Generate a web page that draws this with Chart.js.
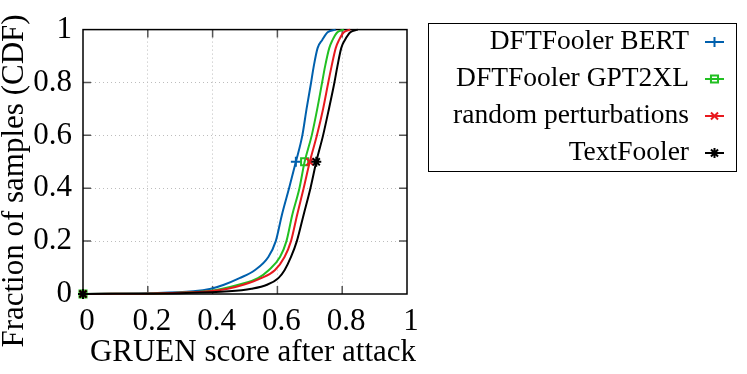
<!DOCTYPE html>
<html>
<head>
<meta charset="utf-8">
<script src="https://cdn.jsdelivr.net/npm/chart.js@4.4.1/dist/chart.umd.min.js"></script>
<style>
    html, body { margin: 0; padding: 0; background: #fff; }
    #wrap { width: 747px; height: 374px; }
</style>
</head>
<body>
<div id="wrap"><canvas id="cdfChart" width="747" height="374"></canvas></div>
<script>
// --- Data ---
const seriesNames = ['DFTFooler BERT', 'DFTFooler GPT2XL', 'random perturbations', 'TextFooler'];
const seriesColors = ['#0060ad', '#22c022', '#e8191e', '#000000'];
const seriesMarkers = ['cross', 'rect', 'crossRot', 'star'];

// fraction of samples (y) at which each curve is sampled
const cdfLevels = [0, 0.003, 0.01, 0.02, 0.035, 0.06, 0.09, 0.14, 0.2, 0.3, 0.4, 0.5, 0.6, 0.7, 0.8, 0.86, 0.93, 0.96, 0.99, 1];
// GRUEN score (x) reached at each level
const bertScores   = [0, 0.20, 0.34, 0.395, 0.435, 0.483, 0.530, 0.572, 0.595, 0.614, 0.636, 0.657, 0.677, 0.690, 0.704, 0.712, 0.724, 0.738, 0.755, 0.780];
const gpt2xlScores = [0, 0.25, 0.38, 0.430, 0.480, 0.540, 0.573, 0.608, 0.628, 0.646, 0.668, 0.684, 0.706, 0.723, 0.738, 0.747, 0.760, 0.770, 0.785, 0.805];
const randomScores = [0, 0.25, 0.39, 0.447, 0.495, 0.550, 0.592, 0.622, 0.642, 0.661, 0.681, 0.700, 0.722, 0.741, 0.757, 0.767, 0.780, 0.790, 0.805, 0.825];
const textFoolerScores = [0, 0.30, 0.45, 0.520, 0.568, 0.603, 0.622, 0.642, 0.660, 0.681, 0.702, 0.720, 0.741, 0.759, 0.776, 0.785, 0.797, 0.808, 0.825, 0.848];

const xTicks = [0, 0.2, 0.4, 0.6, 0.8, 1];
const yTicks = [0, 0.2, 0.4, 0.6, 0.8, 1];
const xTitle = 'GRUEN score after attack';
const yTitle = 'Fraction of samples (CDF)';

const allScores = [bertScores, gpt2xlScores, randomScores, textFoolerScores];
const medianIndex = cdfLevels.indexOf(0.5);
const SERIF = '"Liberation Serif", "Times New Roman", serif';

const datasets = seriesNames.map((name, i) => ({
    label: name,
    data: allScores[i].map((x, k) => ({ x: x, y: cdfLevels[k] })),
    borderColor: seriesColors[i],
    backgroundColor: seriesColors[i],
    borderWidth: 2,
    pointStyle: seriesMarkers[i],
    pointRadius: ctx => (ctx.dataIndex === 0 || ctx.dataIndex === medianIndex) ? 5 : 0,
    pointBorderColor: seriesColors[i],
    pointBackgroundColor: 'rgba(0,0,0,0)',
    pointBorderWidth: 2,
    cubicInterpolationMode: 'monotone',
    fill: false,
    clip: 8,
    order: seriesNames.length - i
}));

const fmt = v => String(Math.round(v * 10) / 10);
const gridColor = c => (c.tick && (c.tick.value === 0 || c.tick.value === 1)) ? 'rgba(0,0,0,0)' : '#bdbdbd';

// --- Frame, inward tick marks, axis titles and legend (gnuplot look) ---
const framePlugin = {
    id: 'frame',
    beforeDatasetsDraw(chart) {
        const { ctx, chartArea: a, scales } = chart;
        ctx.save();
        ctx.strokeStyle = '#555';
        ctx.lineWidth = 1.5;
        ctx.beginPath();
        xTicks.slice(1, -1).forEach(v => {
            const px = scales.x.getPixelForValue(v);
            ctx.moveTo(px, a.bottom); ctx.lineTo(px, a.bottom - 8);
            ctx.moveTo(px, a.top); ctx.lineTo(px, a.top + 8);
        });
        yTicks.slice(1, -1).forEach(v => {
            const py = scales.y.getPixelForValue(v);
            ctx.moveTo(a.left, py); ctx.lineTo(a.left + 8, py);
            ctx.moveTo(a.right, py); ctx.lineTo(a.right - 8, py);
        });
        ctx.stroke();
        ctx.strokeStyle = '#000';
        ctx.lineWidth = 1.5;
        ctx.strokeRect(a.left, a.top, a.right - a.left, a.bottom - a.top);
        ctx.restore();
    },
    afterDraw(chart) {
        const ctx = chart.ctx;
        ctx.save();
        ctx.fillStyle = '#000';
        ctx.font = '31px ' + SERIF;
        ctx.textAlign = 'center';
        ctx.textBaseline = 'middle';
        ctx.fillText(xTitle, 253, 353);
        ctx.translate(15, 181);
        ctx.rotate(-Math.PI / 2);
        ctx.fillText(yTitle, 0, 0);
        ctx.restore();

        // legend box
        ctx.save();
        ctx.strokeStyle = '#000';
        ctx.lineWidth = 1;
        ctx.strokeRect(428.5, 23.5, 308, 148);
        ctx.font = '27.5px ' + SERIF;
        ctx.textAlign = 'right';
        ctx.textBaseline = 'middle';
        const rows = [42, 79, 116, 153];
        seriesNames.forEach((name, i) => {
            ctx.fillStyle = '#000';
            ctx.fillText(name, 689, rows[i]);
            ctx.strokeStyle = seriesColors[i];
            ctx.lineWidth = 2;
            ctx.beginPath();
            ctx.moveTo(705, rows[i]);
            ctx.lineTo(724, rows[i]);
            ctx.stroke();
            ctx.fillStyle = 'rgba(0,0,0,0)';
            Chart.helpers.drawPoint(ctx, {
                pointStyle: seriesMarkers[i], radius: 5, rotation: 0, borderWidth: 2
            }, 714.5, rows[i]);
        });
        ctx.restore();
    }
};

new Chart(document.getElementById('cdfChart'), {
    type: 'line',
    data: { datasets: datasets },
    options: {
        responsive: false,
        animation: false,
        layout: { padding: { left: 0, top: 24, right: 340, bottom: 0 } },
        plugins: { legend: { display: false }, tooltip: { enabled: false } },
        scales: {
            x: {
                type: 'linear',
                min: 0, max: 1,
                border: { display: false, dash: [1, 3] },
                grid: { drawTicks: false, color: gridColor, lineWidth: 1 },
                ticks: {
                    stepSize: 0.2,
                    padding: 9,
                    labelOffset: 4,
                    color: '#000',
                    font: { family: SERIF, size: 31 },
                    callback: v => fmt(v),
                    maxRotation: 0
                },
                afterFit: s => { s.height = 80; }
            },
            y: {
                type: 'linear',
                min: 0, max: 1,
                border: { display: false, dash: [1, 3] },
                grid: { drawTicks: false, color: gridColor, lineWidth: 1 },
                ticks: {
                    stepSize: 0.2,
                    padding: 11,
                    color: '#000',
                    font: { family: SERIF, size: 31 },
                    callback: v => fmt(v)
                },
                afterFit: s => { s.width = 83; }
            }
        }
    },
    plugins: [framePlugin]
});
</script>
</body>
</html>
